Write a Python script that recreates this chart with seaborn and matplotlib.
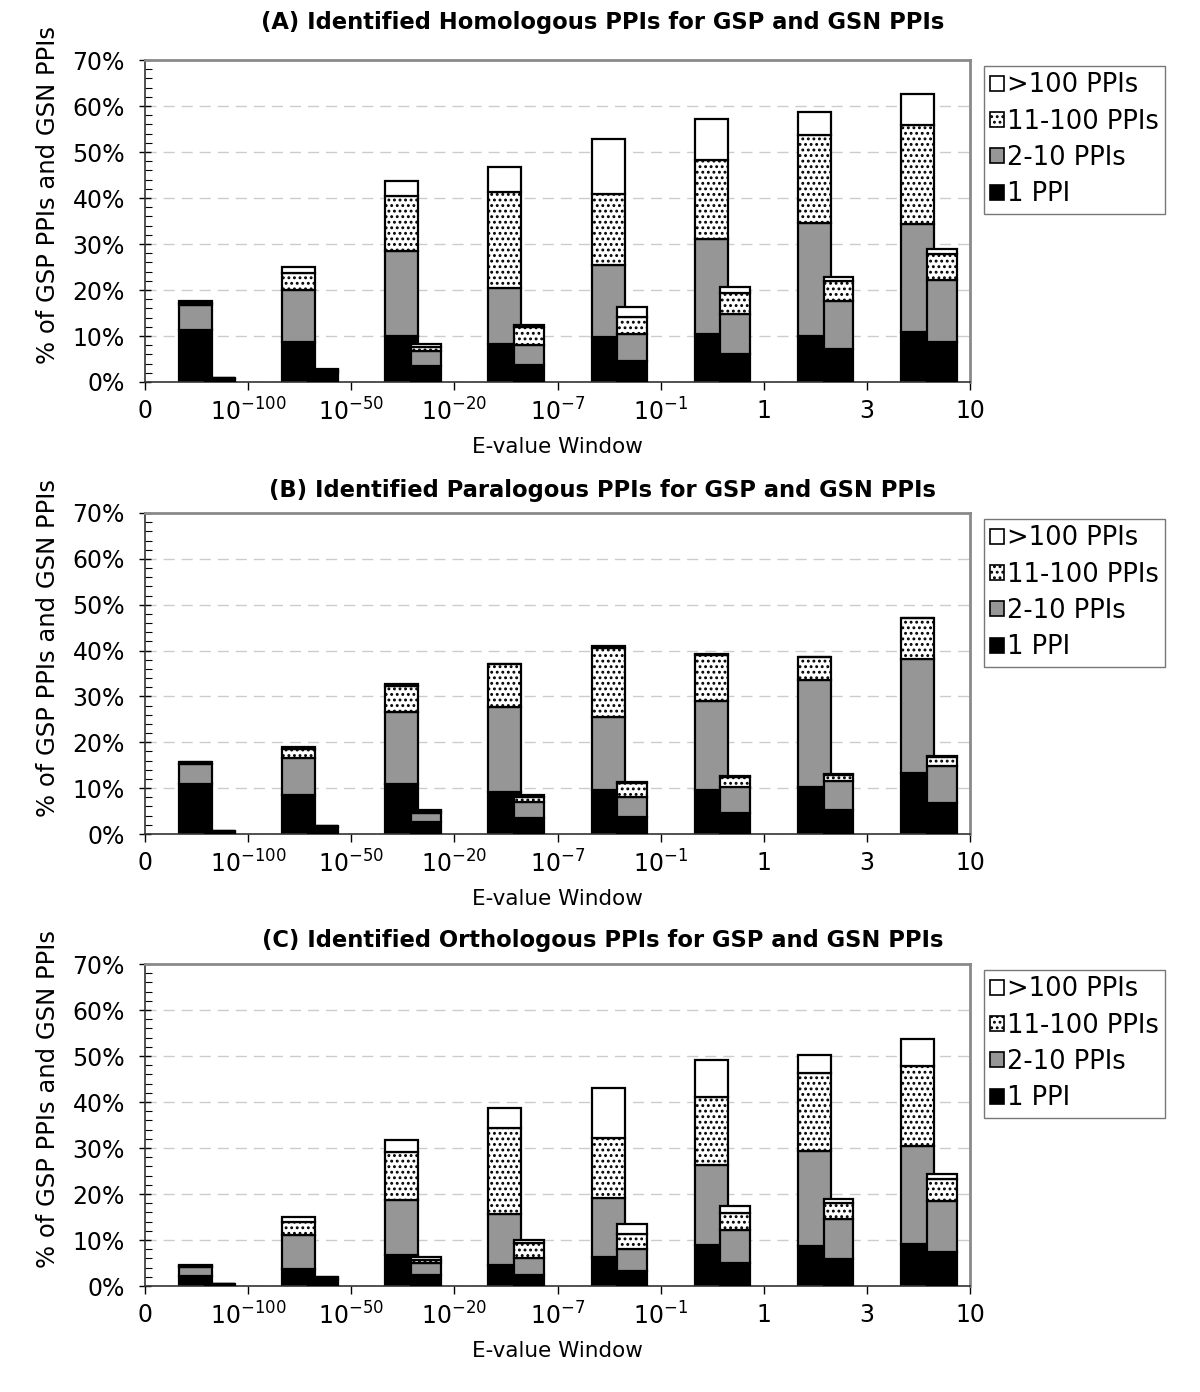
import numpy as np
import matplotlib
matplotlib.use("Agg")
import matplotlib.pyplot as plt
import matplotlib.patches as mpatches
import seaborn as sns

# E-value windows (tick labels sit on the window boundaries)
edges = ["0", r"$\mathregular{10^{-100}}$", r"$\mathregular{10^{-50}}$", r"$\mathregular{10^{-20}}$",
         r"$\mathregular{10^{-7}}$", r"$\mathregular{10^{-1}}$", "1", "3", "10"]
segments = ["1 PPI", "2-10 PPIs", "11-100 PPIs", ">100 PPIs"]

# (A) Homologous
homo_gsp_1 = [11.4, 8.7, 9.9, 8.3, 9.8, 10.4, 10.0, 10.8]
homo_gsp_2 = [5.3, 11.4, 18.5, 12.1, 15.7, 20.7, 24.5, 23.5]
homo_gsp_11 = [0.4, 3.6, 12.0, 21.0, 15.4, 17.1, 19.1, 21.5]
homo_gsp_100 = [0.4, 1.3, 3.2, 5.3, 12.0, 8.9, 5.2, 6.8]
homo_gsn_1 = [0.6, 2.0, 3.4, 3.6, 4.5, 6.0, 7.1, 8.6]
homo_gsn_2 = [0.2, 0.4, 3.3, 4.4, 5.9, 8.8, 10.5, 13.6]
homo_gsn_11 = [0.0, 0.2, 0.9, 3.9, 3.8, 4.5, 4.4, 5.6]
homo_gsn_100 = [0.0, 0.2, 0.7, 0.5, 2.2, 1.4, 0.9, 1.2]

# (B) Paralogous
para_gsp_1 = [10.8, 8.4, 10.8, 9.2, 9.5, 9.5, 10.2, 13.4]
para_gsp_2 = [4.4, 8.1, 15.7, 18.4, 16.0, 19.4, 23.4, 24.7]
para_gsp_11 = [0.4, 2.1, 5.8, 9.4, 15.1, 10.2, 4.9, 9.0]
para_gsp_100 = [0.2, 0.3, 0.5, 0.1, 0.5, 0.1, 0.1, 0.1]
para_gsn_1 = [0.5, 1.6, 2.7, 3.4, 3.8, 4.5, 5.3, 6.8]
para_gsn_2 = [0.1, 0.1, 1.8, 3.6, 4.3, 5.8, 6.3, 8.1]
para_gsn_11 = [0.0, 0.0, 0.5, 1.0, 3.0, 2.2, 1.3, 2.0]
para_gsn_100 = [0.0, 0.0, 0.2, 0.4, 0.2, 0.1, 0.1, 0.1]

# (C) Orthologous
orth_gsp_1 = [2.2, 3.6, 6.7, 4.5, 6.3, 9.0, 8.7, 9.2]
orth_gsp_2 = [1.9, 7.4, 12.1, 11.1, 12.8, 17.4, 20.6, 21.2]
orth_gsp_11 = [0.3, 2.9, 10.4, 18.7, 13.1, 14.7, 16.9, 17.4]
orth_gsp_100 = [0.2, 1.1, 2.6, 4.4, 10.8, 8.1, 4.1, 5.8]
orth_gsn_1 = [0.4, 1.2, 2.5, 2.5, 3.3, 4.9, 5.8, 7.4]
orth_gsn_2 = [0.1, 0.5, 2.5, 3.5, 4.8, 7.2, 8.7, 11.1]
orth_gsn_11 = [0.0, 0.2, 0.7, 3.4, 3.3, 3.8, 3.5, 4.7]
orth_gsn_100 = [0.0, 0.1, 0.6, 0.7, 2.0, 1.6, 1.0, 1.1]

panels = [
    ("(A) Identified Homologous PPIs for GSP and GSN PPIs",
     [homo_gsp_1, homo_gsp_2, homo_gsp_11, homo_gsp_100],
     [homo_gsn_1, homo_gsn_2, homo_gsn_11, homo_gsn_100]),
    ("(B) Identified Paralogous PPIs for GSP and GSN PPIs",
     [para_gsp_1, para_gsp_2, para_gsp_11, para_gsp_100],
     [para_gsn_1, para_gsn_2, para_gsn_11, para_gsn_100]),
    ("(C) Identified Orthologous PPIs for GSP and GSN PPIs",
     [orth_gsp_1, orth_gsp_2, orth_gsp_11, orth_gsp_100],
     [orth_gsn_1, orth_gsn_2, orth_gsn_11, orth_gsn_100]),
]

sns.set_theme(style="white")
plt.rcParams["font.family"] = ["DejaVu Sans"]
plt.rcParams["hatch.linewidth"] = 1.3
for key in ["text.color", "axes.labelcolor", "xtick.color", "ytick.color"]:
    plt.rcParams[key] = "black"

W, H = 1200, 1392
fig = plt.figure(figsize=(W / 100, H / 100), dpi=100)

seg_colors = ["black", "#969696", "white", "white"]
seg_hatch = [None, None, "...", None]

# pixel layout of each panel: (top of plot, bottom axis, title y)
layout = [(60, 382, 22), (513, 834, 491), (964, 1286, 941)]
left_px, right_px = 145, 970

for (title, gsp, gsn), (top, bot, ty) in zip(panels, layout):
    ax = fig.add_axes([left_px / W, 1 - bot / H, (right_px - left_px) / W, (bot - top) / H])
    x = np.arange(len(edges) - 1)

    # GSP bar on the left, narrower GSN bar overlapping it on the right
    for vals, off, wd, z in [(gsp, 0.49, 0.32, 2), (gsn, 0.725, 0.29, 3)]:
        bottom = np.zeros(len(x))
        for k in range(4):
            v = np.array(vals[k])
            ax.bar(x + off, v, wd, bottom=bottom, color=seg_colors[k], edgecolor="black",
                   linewidth=1.6, hatch=seg_hatch[k], zorder=z)
            bottom += v

    ax.set_xlim(0, 8)
    ax.set_ylim(0, 70)
    ax.set_xticks(np.arange(len(edges)))
    ax.set_xticklabels(edges, fontsize=17)
    ax.set_yticks(np.arange(0, 71, 10))
    ax.set_yticklabels([f"{v}%" for v in range(0, 71, 10)], fontsize=17)
    ax.set_yticks(np.arange(0, 71, 2), minor=True)
    ax.tick_params(axis="y", which="major", direction="inout", length=9, width=1, left=True, pad=10)
    ax.tick_params(axis="y", which="minor", direction="in", length=5, width=0.8, left=True)
    ax.tick_params(axis="x", which="major", direction="out", length=6, width=1, bottom=True, pad=6)
    ax.yaxis.grid(True, which="major", color="#cccccc", linestyle=(0, (8, 5)), linewidth=1, zorder=0)
    ax.set_axisbelow(True)

    for s in ["top", "right"]:
        ax.spines[s].set_color("#8a8a8a")
        ax.spines[s].set_linewidth(2)
    for s in ["left", "bottom"]:
        ax.spines[s].set_color("#333333")
        ax.spines[s].set_linewidth(1.2)

    ax.set_xlabel("E-value Window", fontsize=15.5, labelpad=8)
    ax.set_ylabel("% of GSP PPIs and GSN PPIs", fontsize=17.5)
    ax.yaxis.set_label_coords(-0.103, 0.58)

    fig.text(603 / W, 1 - ty / H, title, ha="center", va="center", fontsize=16.3, fontweight="bold")

    handles = [mpatches.Patch(facecolor=seg_colors[k], edgecolor="black", hatch=seg_hatch[k],
                              linewidth=1.2, label=segments[k]) for k in [3, 2, 1, 0]]
    leg = ax.legend(handles=handles, loc="upper left", bbox_to_anchor=((984 - left_px) / (right_px - left_px),
                    1 - 6 / (bot - top)), borderaxespad=0, fontsize=18.5, frameon=True, fancybox=False,
                    handlelength=0.52, handleheight=0.52, handletextpad=0.12, labelspacing=0.4,
                    borderpad=0.25)
    leg.get_frame().set_edgecolor("#555555")
    leg.get_frame().set_linewidth(1)

fig.savefig("out.png", dpi=100)
